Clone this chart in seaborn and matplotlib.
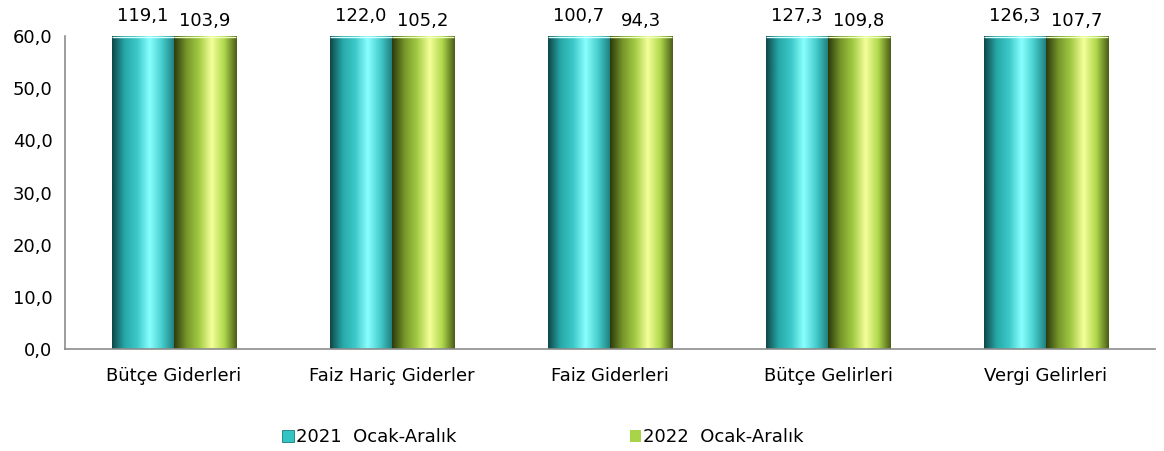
import numpy as np
import pandas as pd
import matplotlib
matplotlib.use("Agg")
import matplotlib.pyplot as plt
from matplotlib.colors import LinearSegmentedColormap
from matplotlib.patches import Patch
import seaborn as sns

categories = ["Bütçe Giderleri", "Faiz Hariç Giderler", "Faiz Giderleri", "Bütçe Gelirleri", "Vergi Gelirleri"]
series_names = ["2021  Ocak-Aralık", "2022  Ocak-Aralık"]
values_2021 = [119.1, 122.0, 100.7, 127.3, 126.3]
values_2022 = [103.9, 105.2, 94.3, 109.8, 107.7]
y_ticks = [0, 10, 20, 30, 40, 50, 60]

df = pd.DataFrame({
    "cat": categories * 2,
    "series": [series_names[0]] * 5 + [series_names[1]] * 5,
    "val": values_2021 + values_2022,
})

sns.set_theme(style="white")
plt.rcParams["font.family"] = ["DejaVu Sans"]
plt.rcParams["text.color"] = "black"
plt.rcParams["xtick.color"] = "black"
plt.rcParams["ytick.color"] = "black"
FS = 13

fig = plt.figure(figsize=(11.64, 4.51), dpi=100)
ax = fig.add_axes([65/1164, 1-349/451, (1155-65)/1164, (349-36)/451])

base_colors = ["#33c4c4", "#9cc43c"]
sns.barplot(data=df, x="cat", y="val", hue="series", palette=base_colors,
            width=0.57, gap=0, ax=ax, legend=False, saturation=1)

cmaps = [
    LinearSegmentedColormap.from_list("c", ["#0f4646", "#27a8a8", "#3cc8c8", "#8affff", "#45cccc", "#1c7a7a"]),
    LinearSegmentedColormap.from_list("g", ["#2c3a0c", "#76962a", "#a3cb44", "#f5ff9a", "#afd84c", "#4a5c16"]),
]
grad = np.linspace(0, 1, 256).reshape(1, -1)
ymax = 60
for i, cont in enumerate(ax.containers):
    vals = values_2021 if i == 0 else values_2022
    for bar, v in zip(cont, vals):
        x0 = bar.get_x(); w = bar.get_width()
        top = min(bar.get_height(), ymax)
        im = ax.imshow(grad, cmap=cmaps[i], aspect="auto", extent=[x0, x0 + w, 0, top],
                       zorder=bar.get_zorder() + 0.1, interpolation="bicubic")
        im.set_clip_path(bar)
        ax.plot([x0, x0 + w], [top - 0.25, top - 0.25], color="#d8ffff" if i == 0 else "#eaffc0",
                lw=1.0, zorder=bar.get_zorder() + 0.2, solid_capstyle="butt")
        ax.annotate(f"{v:.1f}".replace(".", ","), (x0 + w / 2, top), xytext=(0, 8 if i == 0 else 4),
                    textcoords="offset points", ha="center", va="bottom", fontsize=FS,
                    color="#000000", annotation_clip=False)

ax.set_xlim(-0.5, 4.5)
ax.set_ylim(0, ymax)
ax.set_yticks(y_ticks)
ax.set_yticklabels([f"{t:.1f}".replace(".", ",") for t in y_ticks], fontsize=FS)
ax.tick_params(axis="x", labelsize=FS, pad=13, length=0, colors="black")
ax.tick_params(axis="y", length=0, pad=9, colors="black")
ax.set_xlabel("")
ax.set_ylabel("")
for s in ["top", "right"]:
    ax.spines[s].set_visible(False)
for s in ["left", "bottom"]:
    ax.spines[s].set_color("#8c8c8c")
    ax.spines[s].set_linewidth(1.2)
ax.grid(False)

handles = [Patch(facecolor=base_colors[0], edgecolor="#1c7a7a", lw=0.6),
           Patch(facecolor="#a8d44a", edgecolor="none")]
leg = fig.legend(handles, series_names, loc="center", bbox_to_anchor=(543/1164, 1-437/451), ncol=2,
                 frameon=False, fontsize=FS, handlelength=0.65, handleheight=0.65, handletextpad=0.1,
                 columnspacing=9.6)
for t in leg.get_texts():
    t.set_color("black")

fig.savefig("out.png", dpi=100, facecolor="white")
